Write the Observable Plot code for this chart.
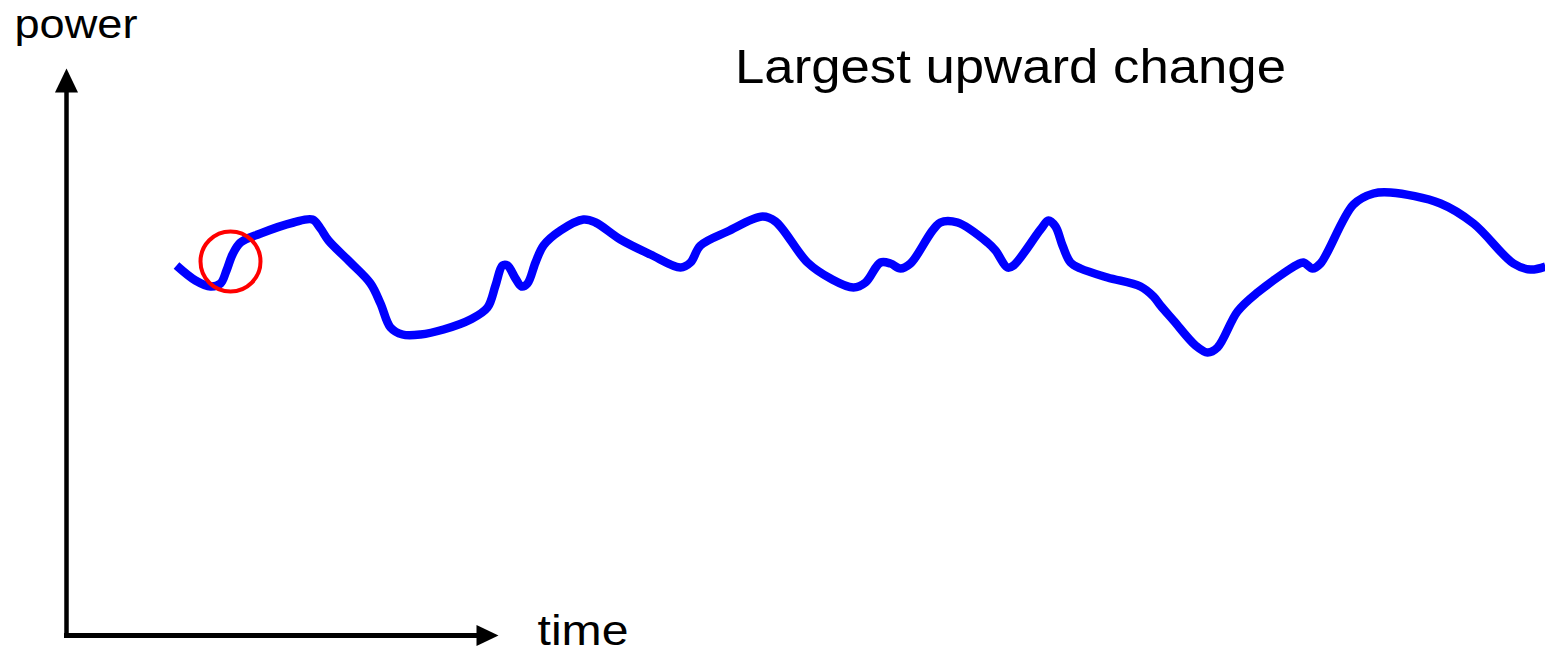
<!DOCTYPE html>
<html>
<head>
<meta charset="utf-8">
<script src="https://cdn.jsdelivr.net/npm/d3@7"></script>
<script src="https://cdn.jsdelivr.net/npm/@observablehq/plot@0.6"></script>
<style>
  html, body { margin: 0; padding: 0; background: #fff; }
  #chart svg { display: block; }
</style>
</head>
<body>
<div id="chart"></div>
<script>
// Sketch signal: time (horizontal units) and power (vertical units)
const time = [176,195,210,220,226,232,240,260,293,312,320,328,350,370,380,390,402,420,443,470,487,495,502,507,515,521,527,535,543,560,583,595,620,650,680,690,700,727,762,775,807,830,853,865,880,890,900,910,940,957,987,995,1007,1013,1040,1048,1055,1062,1070,1080,1107,1140,1153,1160,1173,1195,1207,1217,1237,1257,1297,1303,1312,1320,1353,1373,1390,1440,1473,1513,1530,1545];
const power = [388,373,367,370,383,399,411,420,431,434,425,413,391,370,350,326,319,319,324,334,346,368,388,388,375,367,370,391,408,423,434,431,414,399,386,391,408,422,437,432,391,375,366,371,391,390,385,390,431,431,411,403,386,388,424,433,427,408,391,385,376,367,357,348,333,308,301,306,342,361,389,391,385,390,449,460,461,450,430,390,384,387];

// Highlighted point (largest upward change)
const highlightTime = [230];
const highlightPower = [392];

// Axis origin and arrow tips
const originTime = 66;
const originPower = 18;
const yTipPower = 585;
const xTipTime = 498;

// Labels
const yLabel = "power";
const xLabel = "time";
const titleText = "Largest upward change";

const series = time.map((t, i) => ({time: t, power: power[i]}));
const highlight = highlightTime.map((t, i) => ({time: t, power: highlightPower[i]}));

// filled arrowhead symbol, tip at top
const arrowHead = {
  draw(context, size) {
    const r = Math.sqrt(size / Math.PI);
    context.moveTo(0, -r);
    context.lineTo(r * 0.96, r);
    context.lineTo(-r * 0.96, r);
    context.closePath();
  }
};

const W = 1545, H = 653;
const font = "'Liberation Sans', Arial, Helvetica, sans-serif";

const chart = Plot.plot({
  width: W,
  height: H,
  margin: 0,
  style: {fontFamily: font, background: "#fff", color: "#000"},
  x: {axis: null, domain: [0, W]},
  y: {axis: null, domain: [0, H]},
  marks: [
    // y axis shaft and head
    Plot.ruleX([originTime], {y1: originPower - 2, y2: yTipPower - 20, stroke: "#000", strokeWidth: 4.5}),
    Plot.dot([{time: originTime, power: yTipPower - 12}], {x: "time", y: "power", symbol: arrowHead, r: 12, fill: "#000", stroke: "none"}),
    // x axis shaft and head
    Plot.ruleY([originPower], {x1: originTime - 2, x2: xTipTime - 20, stroke: "#000", strokeWidth: 5}),
    Plot.dot([{time: xTipTime - 11, power: originPower}], {x: "time", y: "power", symbol: arrowHead, r: 11, rotate: 90, fill: "#000", stroke: "none"}),
    // signal
    Plot.line(series, {x: "time", y: "power", stroke: "#0000ff", strokeWidth: 8.5, curve: "catmull-rom", strokeLinecap: "butt", strokeLinejoin: "round"}),
    // highlight circle
    Plot.dot(highlight, {x: "time", y: "power", r: 30, stroke: "#ff0000", strokeWidth: 4, fill: "none"}),
    // labels
    Plot.text([yLabel], {x: 14, y: H - 37, text: d => d, textAnchor: "start", lineAnchor: "bottom", fontSize: 41, fill: "#000", className: "lbl-power"}),
    Plot.text([xLabel], {x: 537, y: H - 644, text: d => d, textAnchor: "start", lineAnchor: "bottom", fontSize: 42, fill: "#000", className: "lbl-time"}),
    Plot.text([titleText], {x: 1010, y: H - 82, text: d => d, textAnchor: "middle", lineAnchor: "bottom", fontSize: 49, fill: "#000", className: "lbl-title"})
  ]
});

document.getElementById("chart").appendChild(chart);

// slight horizontal stretch of the labels to match the reference proportions
const stretch = [["lbl-power", 123], ["lbl-time", 91], ["lbl-title", 551]];
for (const [cls, len] of stretch) {
  d3.select(chart).selectAll("." + cls + " text")
    .attr("textLength", len)
    .attr("lengthAdjust", "spacingAndGlyphs");
}
</script>
</body>
</html>
